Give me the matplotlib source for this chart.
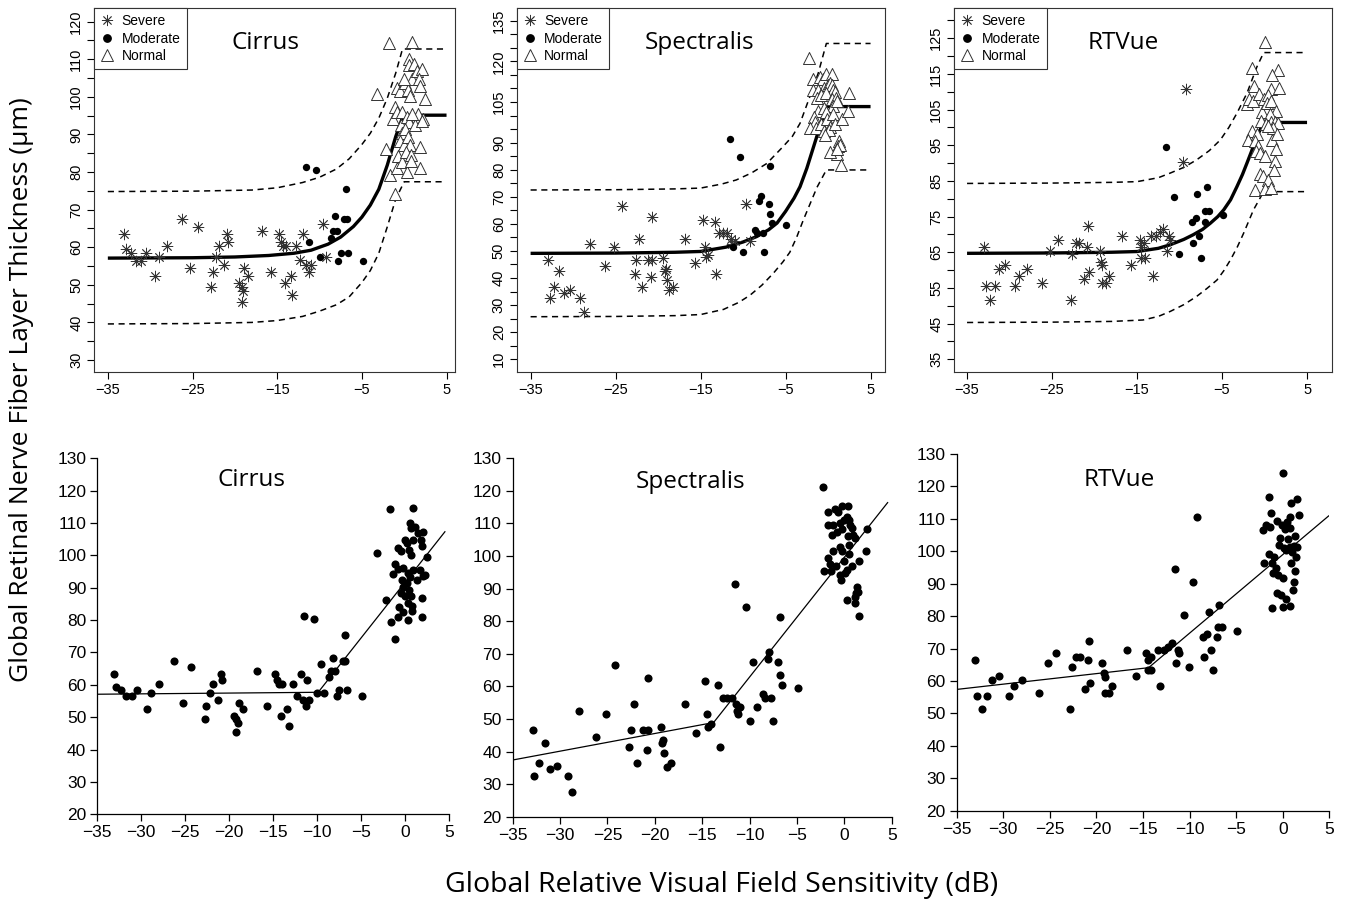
import numpy as np
import matplotlib
matplotlib.use('Agg')
import matplotlib.pyplot as plt
from matplotlib.lines import Line2D

# ---------------- data ----------------
# Cirrus
cir_sev_x = [-33.1, -32.9, -32.3, -31.7, -31.1, -30.5, -29.4, -28.9, -28.0, -26.25, -25.3, -24.3,
             -22.8, -22.6, -22.2, -21.9, -21.3, -20.9, -20.8, -19.5, -19.2, -19.05, -19.2, -18.9,
             -18.4, -16.8, -15.7, -14.8, -14.55, -14.3, -14.0, -14.1, -13.4, -13.2, -12.8, -12.35,
             -11.9, -11.6, -11.3, -11.0, -9.6, -9.2]
cir_sev_y = [63.4, 59.4, 58.4, 56.4, 56.4, 58.4, 52.4, 57.4, 60.4, 67.4, 54.4, 65.4,
             49.5, 53.4, 57.4, 60.4, 55.4, 63.4, 61.5, 50.4, 49.4, 48.3, 45.3, 54.4,
             52.4, 64.4, 53.4, 63.4, 61.4, 60.4, 60.4, 50.4, 52.4, 47.4, 60.4, 56.5,
             63.4, 55.4, 53.4, 55.4, 66.3, 57.4]
cir_mod_x = [-11.55, -10.4, -11.2, -10.0, -8.7, -8.45, -8.2, -7.95, -7.8, -7.5, -7.1, -6.85, -6.8, -6.6, -4.9]
cir_mod_y = [81.4, 80.5, 61.4, 57.4, 62.4, 64.4, 68.4, 64.4, 56.4, 58.4, 67.4, 75.4, 67.4, 58.4, 56.4]
cir_nor_x = [-1.78, 0.9, -3.2, -2.2, -1.63, -1.14, -0.87, -0.5, -1.14, -1.36, -0.8, -0.23, -0.42, -0.23,
             -0.53, -0.04, -0.68, -0.8, -0.3, 0.15, 0.45, 0.53, 0.6, 0.9, 0.7, 0.34, 0.53, 0.15, 0.45,
             0.7, 0.27, 0.8, 0.34, 0.8, 1.1, 1.48, 2.05, 1.78, 1.9, 1.67, 2.23, 1.29, 2.05, 1.86, 1.86,
             2.5, 0.9, -0.04]
cir_nor_y = [114.2, 114.5, 100.7, 86.2, 79.3, 74.2, 102.4, 101.4, 97.3, 94.2, 95.9, 96.0, 92.4, 90.3,
             88.3, 87.3, 84.2, 81.1, 82.6, 103.7, 101.7, 110.1, 108.4, 104.8, 100.1, 94.5, 93.4, 91.4,
             89.3, 87.3, 85.2, 84.5, 80.0, 82.9, 108.7, 106.8, 107.3, 104.8, 102.9, 95.5, 94.0, 92.4,
             93.6, 86.7, 81.1, 99.4, 95.5, 104.8]

# Spectralis
spe_sev_x = [-32.9, -32.75, -32.2, -31.6, -31.1, -30.35, -29.2, -28.7, -28.0, -26.2, -25.2, -24.2,
             -22.7, -22.55, -22.2, -21.85, -21.2, -20.7, -20.85, -20.75, -19.4, -19.1, -19.2, -19.0,
             -18.75, -18.3, -16.8, -15.7, -14.7, -14.45, -14.4, -14.1, -13.3, -13.15, -12.8, -12.4,
             -11.9, -11.4, -11.3, -11.0, -9.6, -9.2]
spe_sev_y = [46.6, 32.5, 36.6, 42.5, 34.5, 35.6, 32.5, 27.6, 52.5, 44.6, 51.5, 66.5,
             41.5, 46.6, 54.5, 36.6, 46.6, 46.6, 40.5, 62.6, 47.5, 43.5, 42.5, 39.4,
             35.4, 36.6, 54.5, 45.6, 61.5, 51.5, 47.6, 48.6, 60.5, 41.5, 56.5, 56.5,
             56.5, 54.5, 52.5, 53.6, 67.5, 53.6]
spe_mod_x = [-11.5, -10.4, -11.2, -10.0, -8.6, -8.4, -8.1, -7.9, -7.7, -7.5, -7.0, -6.8, -6.8, -6.55, -4.9]
spe_mod_y = [91.4, 84.5, 51.5, 49.5, 57.6, 56.5, 68.4, 70.4, 56.5, 49.5, 67.5, 81.4, 63.5, 60.4, 59.5]
spe_nor_x = [-2.2, -1.76, -1.76, -0.99, -0.64, -0.28, 0.42, -1.16, -0.46, 0.0, 0.25, 0.5, 0.6, -1.27,
             -0.81, -0.28, 0.78, 0.42, 0.95, 0.53, 1.1, -1.23, -0.46, -0.28, -1.69, -1.5, -2.15, -1.45,
             -0.88, -0.07, 0.25, -0.46, 0.07, -0.35, 0.53, 0.78, 1.6, 2.43, 2.3, 1.3, 1.2, 1.4, 1.1,
             0.25, 1.5, 1.1]
spe_nor_y = [121.3, 113.4, 109.4, 114.3, 113.4, 115.4, 115.4, 109.4, 110.0, 111.1, 112.1, 111.1, 109.5,
             106.5, 107.5, 108.2, 108.5, 106.0, 106.5, 103.4, 105.4, 101.6, 102.9, 101.4, 99.3, 97.6,
             95.5, 95.5, 97.0, 98.6, 95.7, 94.2, 94.7, 92.7, 100.6, 97.0, 98.6, 108.4, 101.6, 90.6,
             88.6, 89.1, 85.7, 86.5, 81.6, 87.5]

# RTVue
rtv_sev_x = [-33.0, -32.8, -32.25, -31.7, -31.2, -30.5, -29.35, -28.85, -28.0, -26.2, -25.2, -24.3,
             -22.8, -22.6, -22.2, -21.8, -21.2, -20.9, -20.8, -20.7, -19.4, -19.2, -19.1, -19.1,
             -18.7, -18.3, -16.75, -15.7, -14.7, -14.5, -14.15, -14.5, -14.1, -13.35, -13.15, -12.75,
             -12.35, -11.9, -11.45, -11.2, -11.1, -9.6, -9.2]
rtv_sev_y = [66.5, 55.5, 51.5, 55.5, 60.4, 61.4, 55.5, 58.4, 60.4, 56.4, 65.4, 68.5,
             51.5, 64.4, 67.5, 67.5, 57.4, 66.5, 72.4, 59.5, 65.4, 62.4, 61.3, 56.4,
             56.4, 58.4, 69.5, 61.4, 68.5, 66.5, 67.5, 63.4, 63.4, 69.5, 58.4, 69.5,
             70.6, 71.6, 65.4, 69.5, 68.5, 90.4, 110.7]
rtv_mod_x = [-11.55, -10.6, -10.1, -8.55, -8.45, -8.1, -7.9, -7.75, -7.5, -7.05, -7.0, -6.8, -6.55, -4.9]
rtv_mod_y = [94.5, 80.4, 64.4, 73.5, 67.5, 74.5, 81.4, 69.5, 63.4, 73.5, 76.5, 83.4, 76.5, 75.5]
rtv_nor_x = [0.06, -1.44, 1.57, -1.3, 0.78, 1.7, 0.89, -2.1, -1.8, -1.37, -0.65, -0.1, 0.42, -0.3,
             0.24, 0.78, 1.3, 0.6, -0.37, 0.13, 0.78, 1.25, 1.57, 0.96, 0.35, -1.44, -0.93, -1.97,
             -1.18, -0.75, -1.0, -0.48, 0.0, 0.85, 1.43, 1.3, 1.25, 1.15, -0.57, -0.2, 0.35, -1.1,
             0.06, 0.78]
rtv_nor_y = [124.0, 116.8, 116.0, 111.7, 110.7, 111.2, 114.8, 106.6, 108.1, 107.4, 109.3, 108.1, 109.1,
             104.2, 106.8, 107.3, 104.7, 103.7, 101.9, 101.1, 101.4, 101.6, 101.2, 99.9, 100.4, 99.1,
             98.3, 96.5, 96.3, 94.7, 93.4, 92.7, 91.9, 96.5, 98.3, 93.9, 90.5, 88.1, 87.0, 86.5, 85.2,
             82.4, 82.7, 83.1]

# fitted curves (top row)
cir_fit_x = [-35, -25, -20, -16, -13, -11, -9, -7.5, -6, -5, -4, -3, -2, -1, -0.1, 5]
cir_fit_y = [57.1, 57.2, 57.4, 57.8, 58.4, 59.2, 60.8, 62.7, 65.5, 68.0, 71.2, 75.4, 81.8, 89.4, 95.1, 95.1]
cir_up_x = [-35, -25, -18, -15, -12, -10, -8, -6.5, -5, -4, -3, -2, -1, -0.2, 4.6]
cir_up_y = [74.8, 74.9, 75.2, 75.8, 77.2, 78.6, 80.8, 83.5, 87.3, 90.3, 94.3, 99.6, 106.3, 112.7, 112.7]
cir_lo_x = [-35, -25, -18, -15, -12, -10, -8, -6.5, -5, -4, -3, -2, -1, 0, 4.6]
cir_lo_y = [39.6, 39.7, 40.0, 40.5, 41.6, 43.0, 44.7, 46.8, 50.6, 53.8, 58.4, 65.4, 72.8, 77.4, 77.4]

spe_fit_x = [-35, -25, -18, -15, -12, -10, -8.4, -7, -6, -5, -4, -3.3, -2.5, -1.8, -1.1, -0.2, 5]
spe_fit_y = [49.1, 49.2, 49.5, 49.8, 51.4, 53.3, 55.3, 57.8, 60.3, 64.6, 69.5, 73.7, 80.5, 87.5, 94.5, 103.3, 103.3]
spe_up_x = [-35, -25, -18, -15, -12.5, -10.8, -9, -7.2, -5.3, -4.2, -3.3, -2.14, -1.16, -0.2, 5]
spe_up_y = [72.5, 72.6, 72.9, 73.2, 74.7, 76.2, 78.8, 82.3, 88.5, 92.3, 97.1, 107.0, 115.6, 126.6, 126.6]
spe_lo_x = [-35, -25, -18, -15, -12.3, -10.5, -9.2, -7.8, -6.45, -5.3, -4.5, -3.7, -2.9, -2.1, -1.3, -0.2, 5]
spe_lo_y = [25.7, 25.8, 26.1, 26.5, 28.4, 31.0, 33.6, 37.3, 41.7, 46.0, 49.5, 55.0, 61.5, 67.5, 73.5, 79.9, 79.9]

rtv_fit_x = [-35, -25, -18, -15, -12.5, -11.1, -9.5, -8.4, -7.3, -6.4, -5.5, -4.8, -4, -3.25, -2.6,
             -2.07, -1.5, -1.1, -0.1, 5]
rtv_fit_y = [64.7, 64.8, 65.0, 65.2, 66.1, 67.1, 68.6, 69.9, 71.4, 73.1, 75.0, 76.9, 79.7, 83.4, 86.8,
             90.0, 93.5, 96.5, 101.4, 101.4]
rtv_up_x = [-35, -25, -18, -15, -12.5, -11.1, -9.5, -8, -6.5, -5.2, -4.2, -3.25, -2.07, -0.9, -0.1, 5]
rtv_up_y = [84.3, 84.4, 84.6, 84.8, 85.9, 87.2, 88.8, 90.9, 93.5, 96.5, 100.0, 104.0, 109.6, 117.0, 121.0, 121.0]
rtv_lo_x = [-35, -25, -18, -14.3, -12.5, -11.1, -9.5, -8, -6.8, -5.6, -4.8, -4, -3.2, -2.47, -1.3, -0.1, 5]
rtv_lo_y = [45.3, 45.4, 45.6, 46.0, 47.0, 48.4, 50.3, 52.6, 54.8, 57.2, 59.8, 62.9, 66.5, 70.3, 76.9, 82.0, 82.0]

# broken-stick lines (bottom row)
cir_seg_x = [-35, -9.9, 4.5]
cir_seg_y = [57.1, 57.7, 107.3]
spe_seg_x = [-35, -13.8, 4.57]
spe_seg_y = [37.4, 48.9, 116.4]
rtv_seg_x = [-35, -14.4, 4.93]
rtv_seg_y = [57.4, 64.1, 110.9]

titles = ['Cirrus', 'Spectralis', 'RTVue']

# ---------------- figure ----------------
fig = plt.figure(figsize=(13.45, 9.08), dpi=100)
W, H = 1345.0, 908.0

def box(x0, x1, y0, y1):
    return [x0 / W, 1 - y1 / H, (x1 - x0) / W, (y1 - y0) / H]

top_boxes = [box(94.3, 455, 8, 371.7), box(517, 885, 8, 371.7), box(954.3, 1331.7, 8, 371.7)]
top_xlim = [(-36.6, 6.0), (-36.6, 6.7), (-36.5, 7.9)]
top_ylim = [(26.9, 123.6), (5.4, 139.7), (31.5, 133.5)]
top_major = [np.arange(30, 121, 10), [10, 20, 30, 40, 50, 60, 70, 80, 90, 105, 120, 135], np.arange(35, 126, 10)]
top_minor = [np.arange(35, 116, 10), np.arange(10, 136, 5), np.arange(40, 131, 10)]
title_pos = [(0.476, 0.904), (0.495, 0.904), (0.447, 0.904)]

bot_boxes = [box(97.3, 449.3, 458.3, 814.3), box(512.7, 891.7, 458.3, 816.7), box(956.7, 1329.3, 454, 810.7)]
btitle_pos = [(0.439, 0.939), (0.47, 0.935), (0.436, 0.927)]

sev = [(cir_sev_x, cir_sev_y), (spe_sev_x, spe_sev_y), (rtv_sev_x, rtv_sev_y)]
mod = [(cir_mod_x, cir_mod_y), (spe_mod_x, spe_mod_y), (rtv_mod_x, rtv_mod_y)]
nor = [(cir_nor_x, cir_nor_y), (spe_nor_x, spe_nor_y), (rtv_nor_x, rtv_nor_y)]
fits = [(cir_fit_x, cir_fit_y), (spe_fit_x, spe_fit_y), (rtv_fit_x, rtv_fit_y)]
ups = [(cir_up_x, cir_up_y), (spe_up_x, spe_up_y), (rtv_up_x, rtv_up_y)]
los = [(cir_lo_x, cir_lo_y), (spe_lo_x, spe_lo_y), (rtv_lo_x, rtv_lo_y)]
segs = [(cir_seg_x, cir_seg_y), (spe_seg_x, spe_seg_y), (rtv_seg_x, rtv_seg_y)]

star = (8, 2, 0)
rfont = 'Liberation Sans'
tfont = 'Open Sans'

for i in range(3):
    # ---- top row: R style ----
    ax = fig.add_axes(top_boxes[i])
    ax.plot(*fits[i], color='black', lw=2.4, solid_capstyle='butt', zorder=3)
    ax.plot(*ups[i], color='black', lw=1.1, dashes=(4, 3), zorder=3)
    ax.plot(*los[i], color='black', lw=1.1, dashes=(4, 3), zorder=3)
    ax.scatter(*sev[i], marker=star, s=60, c='#333333', linewidths=0.6, zorder=4)
    ax.scatter(*mod[i], marker='o', s=28, c='black', linewidths=0, zorder=4)
    ax.scatter(*nor[i], marker='^', s=75, facecolors='white', edgecolors='#333333', linewidths=0.7, zorder=4)
    ax.set_xlim(*top_xlim[i])
    ax.set_ylim(*top_ylim[i])
    ax.set_xticks([-35, -25, -15, -5, 5])
    ax.set_yticks(top_major[i])
    ax.set_yticks(top_minor[i], minor=True)
    ax.tick_params(which='both', direction='out', length=5, width=0.8, labelsize=10.5, pad=3)
    ax.tick_params(axis='y', labelrotation=90)
    for lab in ax.get_yticklabels():
        lab.set_verticalalignment('center')
        lab.set_fontfamily(rfont)
    for lab in ax.get_xticklabels():
        lab.set_fontfamily(rfont)
    for sp in ax.spines.values():
        sp.set_linewidth(0.8)
        sp.set_color('#333333')
    ax.text(*title_pos[i], titles[i], transform=ax.transAxes, ha='center', va='center',
            fontsize=17.5, family=tfont)
    handles = [Line2D([], [], ls='none', marker=star, ms=8, mew=0.6, color='#333333'),
               Line2D([], [], ls='none', marker='o', ms=5.3, color='black'),
               Line2D([], [], ls='none', marker='^', ms=8.5, mfc='white', mec='#333333', mew=0.7)]
    leg = ax.legend(handles, ['Severe', 'Moderate', 'Normal'], loc='upper left', borderaxespad=0,
                    fancybox=False, edgecolor='#333333', framealpha=1, handlelength=1.0,
                    handletextpad=0.5, labelspacing=0.25, borderpad=0.45,
                    prop={'family': rfont, 'size': 10})
    leg.get_frame().set_linewidth(0.8)

    # ---- bottom row: Excel style ----
    bx = fig.add_axes(bot_boxes[i])
    allx = list(sev[i][0]) + list(mod[i][0]) + list(nor[i][0])
    ally = list(sev[i][1]) + list(mod[i][1]) + list(nor[i][1])
    bx.scatter(allx, ally, marker='o', s=34, c='black', linewidths=0, zorder=4)
    bx.plot(*segs[i], color='black', lw=0.9, zorder=3)
    bx.set_xlim(-35, 5)
    bx.set_ylim(20, 130)
    bx.set_xticks(np.arange(-35, 6, 5))
    bx.set_yticks(np.arange(20, 131, 10))
    bx.spines['top'].set_visible(False)
    bx.spines['right'].set_visible(False)
    for sp in ('left', 'bottom'):
        bx.spines[sp].set_linewidth(0.9)
    bx.tick_params(direction='out', length=5, width=0.9, labelsize=12.5, pad=3)
    for lab in bx.get_xticklabels() + bx.get_yticklabels():
        lab.set_fontfamily(rfont)
    bx.text(*btitle_pos[i], titles[i], transform=bx.transAxes, ha='center', va='center',
            fontsize=17.5, family=tfont)

fig.text(22 / W, 1 - 390 / H, 'Global Retinal Nerve Fiber Layer Thickness (\u03bcm)', rotation=90,
         ha='center', va='center', fontsize=19, family=tfont)
fig.text(722 / W, 1 - 885 / H, 'Global Relative Visual Field Sensitivity (dB)',
         ha='center', va='center', fontsize=20.5, family=tfont)

fig.savefig('out.png', dpi=100)
